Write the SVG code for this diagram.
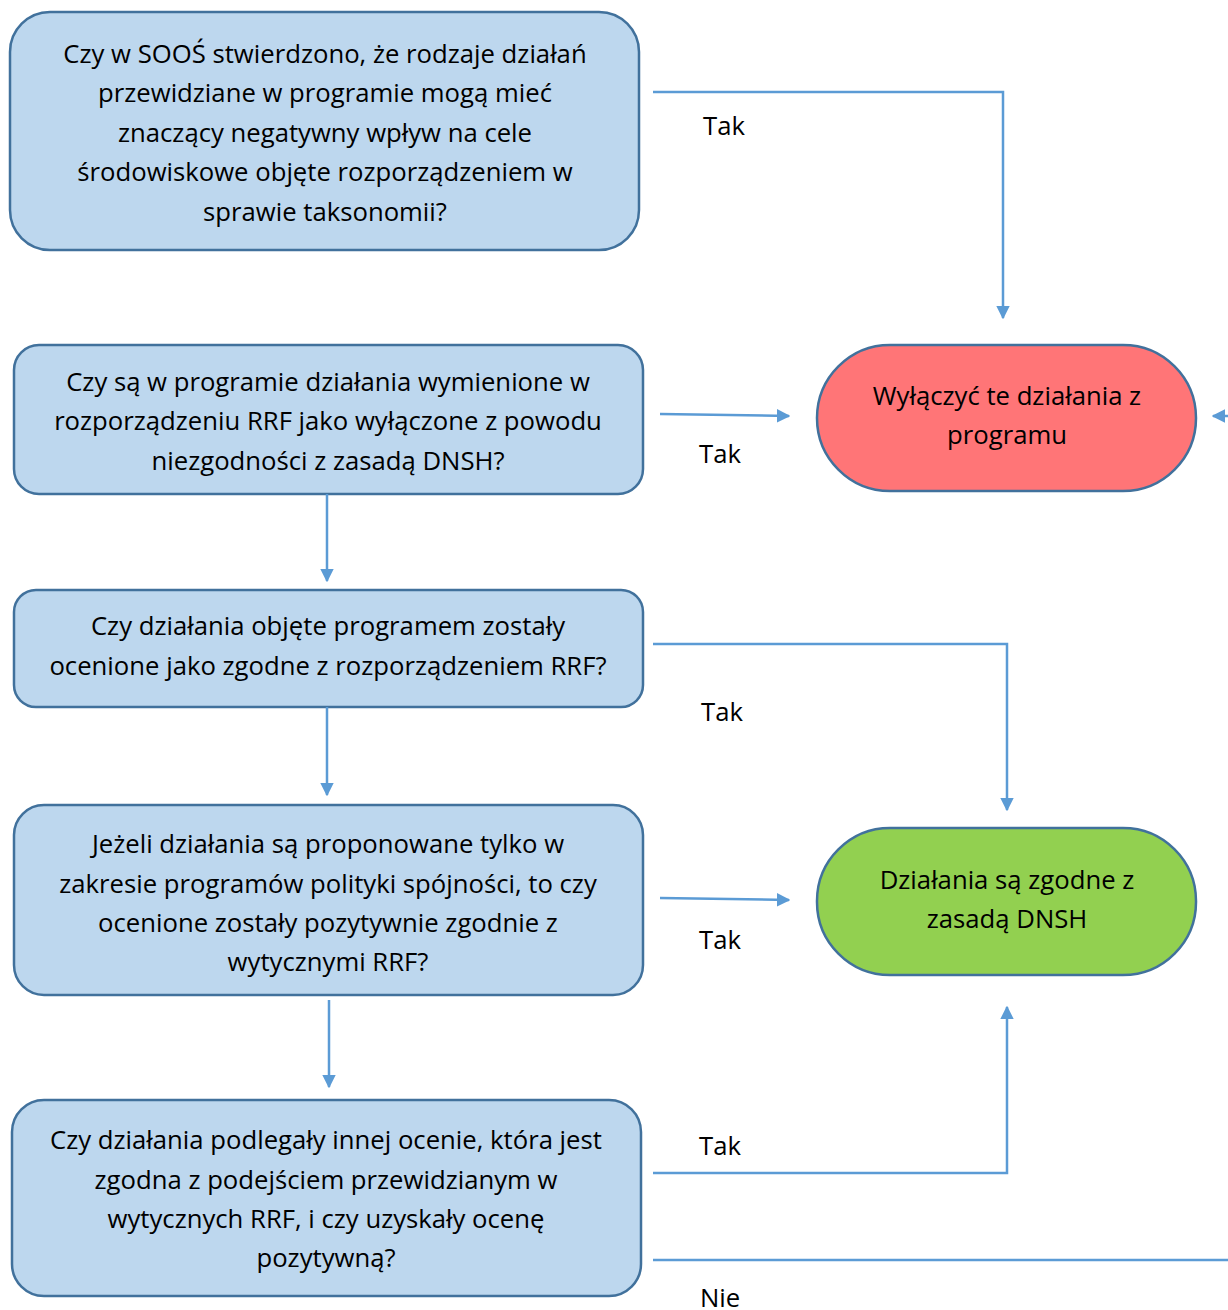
<svg xmlns="http://www.w3.org/2000/svg" width="1228" height="1310" viewBox="0 0 1228 1310">
<defs>
<marker id="arr" viewBox="0 0 10 10" refX="9" refY="5" markerWidth="5.5" markerHeight="5.5" orient="auto" markerUnits="strokeWidth">
<path d="M0,0 L10,5 L0,10 z" fill="#5B9BD5"/>
</marker>
<style>
.q{fill:#BDD7EE;stroke:#41719C;stroke-width:2.5}
.red{fill:#FF7577;stroke:#41719C;stroke-width:2.5}
.green{fill:#92D050;stroke:#41719C;stroke-width:2.5}
text{font-family:"Open Sans","Liberation Sans",sans-serif;font-size:25.7px;fill:#000}
.c{text-anchor:middle}
.ln{fill:none;stroke:#5B9BD5;stroke-width:2.5}
</style>
</defs>
<rect width="1228" height="1310" fill="#fff"/>

<g id="n1">
<rect class="q" x="10" y="12" width="629" height="238" rx="40"/>
<text class="c" x="325" y="63">Czy w SOOŚ stwierdzono, że rodzaje działań</text>
<text class="c" x="325" y="102">przewidziane w programie mogą mieć</text>
<text class="c" x="325" y="142">znaczący negatywny wpływ na cele</text>
<text class="c" x="325" y="181">środowiskowe objęte rozporządzeniem w</text>
<text class="c" x="325" y="221">sprawie taksonomii?</text>
</g>

<g id="n2">
<rect class="q" x="14" y="345" width="629" height="149" rx="25"/>
<text class="c" x="328" y="391">Czy są w programie działania wymienione w</text>
<text class="c" x="328" y="430">rozporządzeniu RRF jako wyłączone z powodu</text>
<text class="c" x="328" y="470">niezgodności z zasadą DNSH?</text>
</g>

<g id="n3">
<rect class="q" x="14" y="590" width="629" height="117" rx="22"/>
<text class="c" x="328" y="635">Czy działania objęte programem zostały</text>
<text class="c" x="328" y="675">ocenione jako zgodne z rozporządzeniem RRF?</text>
</g>

<g id="n4">
<rect class="q" x="14" y="805" width="629" height="190" rx="30"/>
<text class="c" x="328" y="853">Jeżeli działania są proponowane tylko w</text>
<text class="c" x="328" y="893">zakresie programów polityki spójności, to czy</text>
<text class="c" x="328" y="932">ocenione zostały pozytywnie zgodnie z</text>
<text class="c" x="328" y="971">wytycznymi RRF?</text>
</g>

<g id="n5">
<rect class="q" x="12" y="1100" width="629" height="196" rx="32"/>
<text class="c" x="326" y="1149">Czy działania podlegały innej ocenie, która jest</text>
<text class="c" x="326" y="1189">zgodna z podejściem przewidzianym w</text>
<text class="c" x="326" y="1228">wytycznych RRF, i czy uzyskały ocenę</text>
<text class="c" x="326" y="1267">pozytywną?</text>
</g>

<g id="exclude">
<rect class="red" x="817" y="345" width="379" height="146" rx="73"/>
<text class="c" x="1007" y="405">Wyłączyć te działania z</text>
<text class="c" x="1007" y="444">programu</text>
</g>

<g id="compliant">
<rect class="green" x="817" y="828" width="379" height="147" rx="73"/>
<text class="c" x="1007" y="889">Działania są zgodne z</text>
<text class="c" x="1007" y="928">zasadą DNSH</text>
</g>

<g id="connectors">
<polyline class="ln" points="653,92 1003,92 1003,318" marker-end="url(#arr)"/>
<line class="ln" x1="660" y1="414" x2="789" y2="416" marker-end="url(#arr)"/>
<line class="ln" x1="327" y1="494" x2="327" y2="581" marker-end="url(#arr)"/>
<polyline class="ln" points="653,644 1007,644 1007,810" marker-end="url(#arr)"/>
<line class="ln" x1="327" y1="707" x2="327" y2="795" marker-end="url(#arr)"/>
<line class="ln" x1="660" y1="898" x2="789" y2="900" marker-end="url(#arr)"/>
<line class="ln" x1="329" y1="1000" x2="329" y2="1087" marker-end="url(#arr)"/>
<polyline class="ln" points="653,1173 1007,1173 1007,1007" marker-end="url(#arr)"/>
<line class="ln" x1="653" y1="1260" x2="1228" y2="1260"/>
<line class="ln" x1="1240" y1="416" x2="1213" y2="416" marker-end="url(#arr)"/>
</g>

<g id="labels">
<text class="c" x="724" y="135">Tak</text>
<text class="c" x="720" y="463">Tak</text>
<text class="c" x="722" y="721">Tak</text>
<text class="c" x="720" y="949">Tak</text>
<text class="c" x="720" y="1155">Tak</text>
<text class="c" x="720" y="1307">Nie</text>
</g>
</svg>
